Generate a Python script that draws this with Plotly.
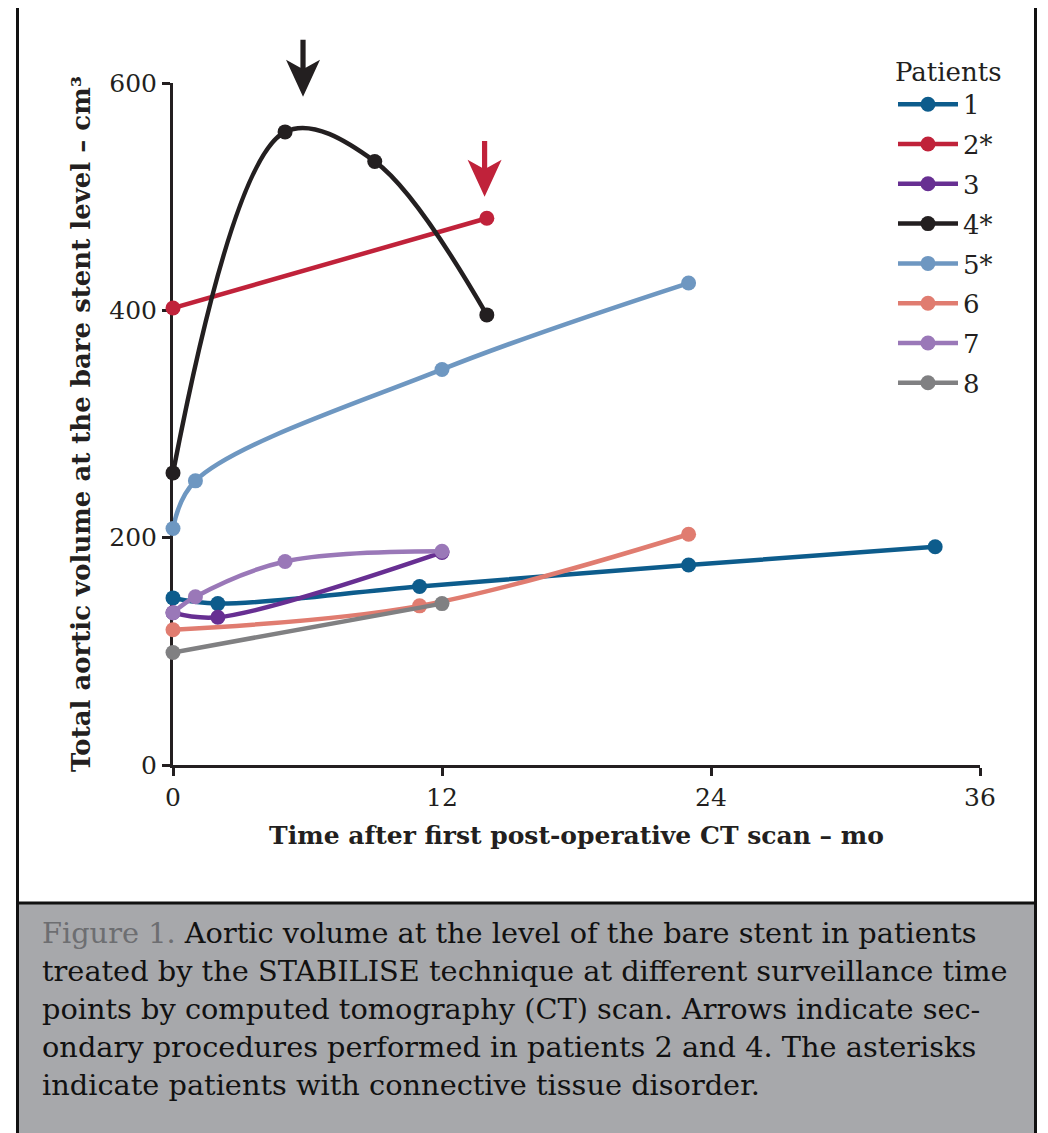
import plotly.graph_objects as go

# ---- data ----
patients = ["1", "2*", "3", "4*", "5*", "6", "7", "8"]
colors = ["#0d5c8c", "#c0223a", "#672f92", "#231f20",
          "#6e97c1", "#e07c70", "#9a78b8", "#808082"]

months = [
    [0, 2, 11, 23, 34],
    [0, 14],
    [0, 2, 12],
    [0, 5, 9, 14],
    [0, 1, 12, 23],
    [0, 11, 23],
    [0, 1, 5, 12],
    [0, 12],
]
volumes = [
    [147, 142, 157, 176, 192],
    [402, 481],
    [134, 130, 187],
    [257, 557, 531, 396],
    [208, 250, 348, 424],
    [119, 140, 203],
    [134, 148, 179, 188],
    [99, 142],
]

# secondary procedures (arrows): month, top of shaft, tip (volume units)
arrow_month = [5.8, 13.9]
arrow_top = [638, 549]
arrow_tip = [588, 500]
arrow_color = ["#231f20", "#c0223a"]

x_ticks = [0, 12, 24, 36]
y_ticks = [0, 200, 400, 600]
X_MAX, Y_MAX = 36, 600

caption_lines = [
    "<span style='color:#6d6e71'>Figure 1.</span> Aortic volume at the level of the bare stent in patients",
    "treated by the STABILISE technique at different surveillance time",
    "points by computed tomography (CT) scan. Arrows indicate sec-",
    "ondary procedures performed in patients 2 and 4. The asterisks",
    "indicate patients with connective tissue disorder.",
]

FONT = "DejaVu Serif"
INK = "#231f20"

# the page adds an 8px body margin, so the figure is shrunk by that much
OFF = 8
W, H = 1048 - OFF, 1133 - OFF
L, T = 173 - OFF, 83 - OFF
PW, PH = 807, 682
R, B = W - L - PW, H - T - PH


def px_x(px):
    """reference-screenshot x pixel -> paper x"""
    return (px - OFF - L) / PW


def px_y(py):
    """reference-screenshot y pixel -> paper y"""
    return (T + PH - (py - OFF)) / PH


fig = go.Figure()
for name, col, xs, ys in zip(patients, colors, months, volumes):
    fig.add_trace(go.Scatter(
        x=xs, y=ys, name=name, legendgroup=name, mode="lines+markers",
        line=dict(color=col, width=4.5, shape="spline", smoothing=1),
        marker=dict(color=col, size=15),
        cliponaxis=False,
    ))

shapes = []
# arrows, drawn in paper coordinates so they can rise above the axis top
head_h = 37 / PH
notch = 8 / PH
half_w = 17 / PW
shaft_w = 2.6 / PW
for m, top, tip, col in zip(arrow_month, arrow_top, arrow_tip, arrow_color):
    xc = m / X_MAX
    yt = top / Y_MAX
    yp = tip / Y_MAX
    yb = yp + head_h
    yn = yb - notch
    path = (f"M{xc - shaft_w},{yt} L{xc + shaft_w},{yt} L{xc + shaft_w},{yn} "
            f"L{xc + half_w},{yb} L{xc},{yp} L{xc - half_w},{yb} "
            f"L{xc - shaft_w},{yn} Z")
    shapes.append(dict(type="path", xref="paper", yref="paper", path=path,
                       fillcolor=col, line=dict(width=0)))

# outer frame and caption box
shapes.append(dict(type="rect", xref="paper", yref="paper",
                   x0=px_x(17.5), x1=px_x(1035.5), y0=px_y(1145), y1=px_y(3.5),
                   line=dict(color="#111111", width=3), layer="below"))
shapes.append(dict(type="rect", xref="paper", yref="paper",
                   x0=px_x(17.5), x1=px_x(1035.5), y0=px_y(1145), y1=px_y(903),
                   fillcolor="#a7a8ab", line=dict(color="#111111", width=3),
                   layer="below"))

annotations = []
for i, line in enumerate(caption_lines):
    annotations.append(dict(
        text=line, xref="paper", yref="paper",
        x=px_x(40), y=px_y(933 + i * 38),
        xanchor="left", yanchor="middle", showarrow=False,
        font=dict(family=FONT, size=28.8, color="#111111"),
    ))

axis_common = dict(
    showline=True, linecolor=INK, linewidth=3,
    ticks="outside", ticklen=8, tickwidth=3, tickcolor=INK,
    showgrid=False, zeroline=False, layer="below traces",
    tickfont=dict(family=FONT, size=25, color=INK),
)

fig.update_layout(
    width=W, height=H,
    margin=dict(l=L, r=R, t=T, b=B),
    paper_bgcolor="white", plot_bgcolor="white",
    xaxis=dict(range=[0, X_MAX], tickvals=x_ticks,
               title=dict(text="<b>Time after first post-operative CT scan – mo</b>",
                          font=dict(family=FONT, size=25, color=INK), standoff=16),
               **axis_common),
    yaxis=dict(range=[0, Y_MAX], tickvals=y_ticks,
               title=dict(text="<b>Total aortic volume at the bare stent level – cm³</b>",
                          font=dict(family=FONT, size=26, color=INK), standoff=12),
               **axis_common),
    legend=dict(
        title=dict(text="Patients", font=dict(family=FONT, size=26, color=INK)),
        font=dict(family=FONT, size=26, color=INK),
        x=px_x(893), y=px_y(47), xanchor="left", yanchor="top",
        bgcolor="rgba(0,0,0,0)", itemwidth=60, tracegroupgap=3,
    ),
    shapes=shapes,
    annotations=annotations,
    showlegend=True,
)

fig.write_html("out.html")
